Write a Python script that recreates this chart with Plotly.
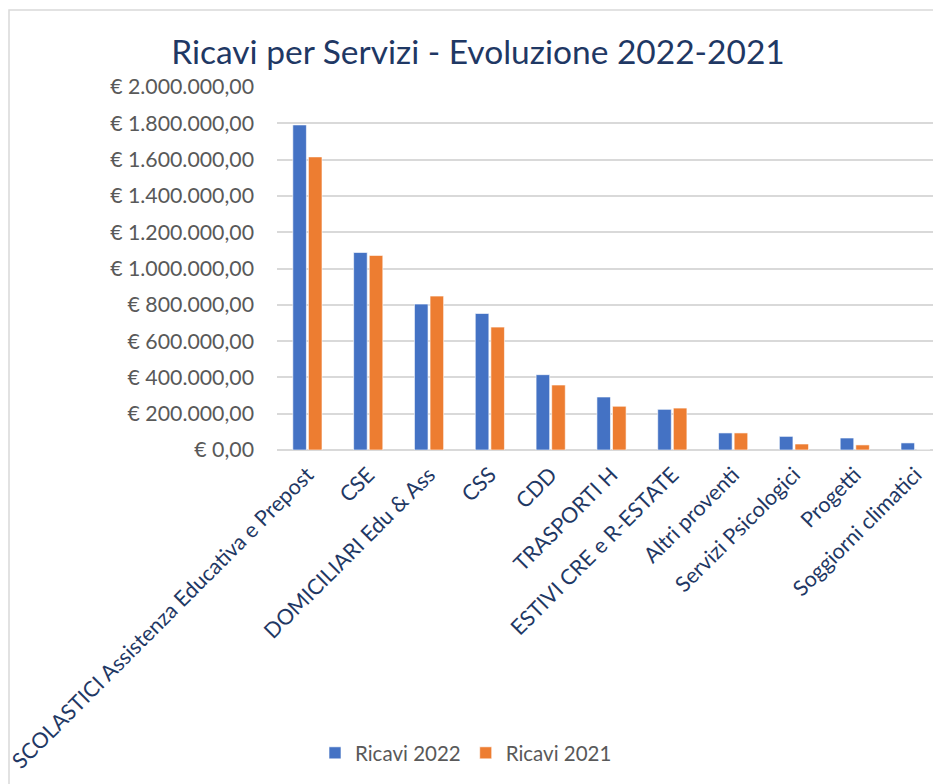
import plotly.graph_objects as go

# Revenue by service line, 2022 vs 2021 (EUR)
categories = [
    "SCOLASTICI Assistenza Educativa e Prepost",
    "CSE",
    "DOMICILIARI Edu & Ass",
    "CSS",
    "CDD",
    "TRASPORTI H",
    "ESTIVI CRE e R-ESTATE",
    "Altri proventi",
    "Servizi Psicologici",
    "Progetti",
    "Soggiorni climatici",
]
ricavi_2022 = [1791000, 1088000, 804000, 752000, 415000, 292000, 224000, 94000, 75000, 66000, 39000]
ricavi_2021 = [1615000, 1072000, 848000, 677000, 358000, 241000, 231000, 94000, 33000, 28000, 0]
tick_values = [0, 200000, 400000, 600000, 800000, 1000000, 1200000, 1400000, 1600000, 1800000, 2000000]


def euro(v):
    s = f"{v:,.2f}"
    s = s.replace(",", "X").replace(".", ",").replace("X", ".")
    return "€ " + s


tick_labels = [euro(v) for v in tick_values]

W, H = 933, 784
ML, MR, MT, MB = 277, 0, 87, 334
plot_w = W - ML - MR
plot_h = H - MT - MB

fig = go.Figure()
fig.add_trace(go.Bar(
    x=categories, y=ricavi_2022, name="Ricavi 2022",
    marker=dict(color="#4472C4", line=dict(color="#FFFFFF", width=0.6)),
))
fig.add_trace(go.Bar(
    x=categories, y=ricavi_2021, name="Ricavi 2021",
    marker=dict(color="#ED7D31", line=dict(color="#FFFFFF", width=0.6)),
))

# light outer frame of the chart area
fig.add_shape(
    type="rect", xref="paper", yref="paper",
    x0=(9 - ML) / plot_w, x1=1.2,
    y0=(MT + plot_h - 800) / plot_h, y1=(MT + plot_h - 10) / plot_h,
    line=dict(color="#D9D9D9", width=1.5), fillcolor="rgba(0,0,0,0)", layer="below",
)

fig.update_layout(
    width=W, height=H,
    margin=dict(l=ML, r=MR, t=MT, b=MB, autoexpand=False),
    paper_bgcolor="white", plot_bgcolor="white",
    font=dict(family="Lato, sans-serif", color="#595959"),
    title=dict(
        text="Ricavi per Servizi - Evoluzione 2022-2021",
        x=478 / W, xanchor="center", y=1 - 52 / H, yanchor="middle",
        font=dict(size=33.5, color="#1F3864", family="Lato, sans-serif"),
    ),
    barmode="group", bargap=0.487, bargroupgap=0.13,
    xaxis=dict(
        type="category", range=[-0.5, 10.5 - 13 / 60.8],
        tickangle=-45, tickfont=dict(size=21.5, color="#1F3864"),
        showgrid=False, showline=False, ticks="", ticklabelstandoff=7,
    ),
    yaxis=dict(
        range=[0, 2000000], tickvals=tick_values, ticktext=tick_labels,
        tickfont=dict(size=21.3, color="#595959"),
        showgrid=True, gridcolor="#D9D9D9", gridwidth=1.5,
        zeroline=True, zerolinecolor="#D9D9D9", zerolinewidth=1.5,
        showline=False, ticks="", ticklabelstandoff=22,
    ),
    legend=dict(
        orientation="h", x=(466 - ML) / plot_w, xanchor="center",
        y=(MT + plot_h - 753) / plot_h, yanchor="middle",
        font=dict(size=20.5, color="#595959"), itemwidth=30,
    ),
)

fig.write_html("out.html")
